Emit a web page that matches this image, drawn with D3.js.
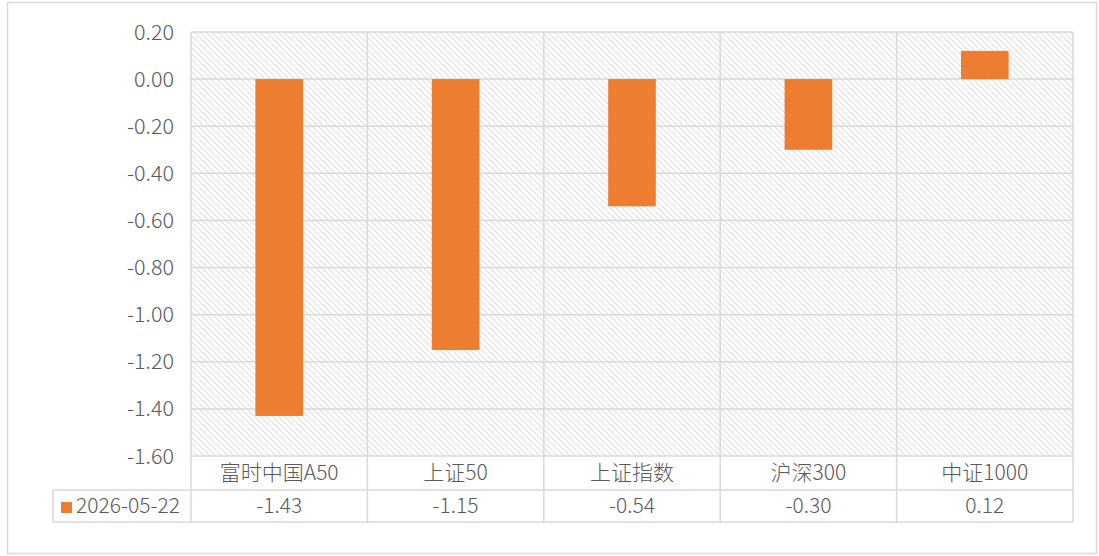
<!DOCTYPE html>
<html>
<head>
<meta charset="utf-8">
<script src="https://cdn.jsdelivr.net/npm/d3@7/dist/d3.min.js"></script>
<style>
    body { margin: 0; background: #fff; }
    text { font-family: "Noto Sans CJK SC", "Noto Sans", sans-serif; font-weight: 300; fill: #595959; }
</style>
</head>
<body>
<svg id="chart" width="1099" height="556"></svg>
<script>
var categories = ['富时中国A50', '上证50', '上证指数', '沪深300', '中证1000']
var values = [-1.43, -1.15, -0.54, -0.30, 0.12]
var seriesName = '2026-05-22'
var yTicks = [0.2, 0, -0.2, -0.4, -0.6, -0.8, -1.0, -1.2, -1.4, -1.6]

var plotLeft = 191, plotRight = 1073, plotTop = 32, plotBottom = 456
var catRowBottom = 490, legRowBottom = 522, legLeft = 53
var gridColor = '#d9d9d9'
var barColor = '#ED7D31'

var svg = d3.select('#chart')

// hatch fill for plot area
var pat = svg.append('defs').append('pattern')
    .attr('id', 'hatch')
    .attr('patternUnits', 'userSpaceOnUse')
    .attr('width', 6)
    .attr('height', 6)
pat.append('path')
    .attr('d', 'M0,0 L6,6 M-3,3 L3,9 M3,-3 L9,3')
    .attr('stroke', '#e0e0e0')
    .attr('stroke-width', 1.2)

// outer frame
svg.append('rect')
    .attr('x', 7.5).attr('y', 2.5)
    .attr('width', 1089).attr('height', 551)
    .attr('fill', 'none')
    .attr('stroke', gridColor)
    .attr('stroke-width', 1.5)

var x = d3.scaleBand()
    .domain(categories)
    .range([plotLeft, plotRight])
    .padding(0)

var y = d3.scaleLinear()
    .domain([-1.6, 0.2])
    .range([plotBottom, plotTop])

svg.append('rect')
    .attr('x', plotLeft).attr('y', plotTop)
    .attr('width', plotRight - plotLeft)
    .attr('height', plotBottom - plotTop)
    .attr('fill', 'url(#hatch)')

// horizontal grid
svg.selectAll('.hgrid')
    .data(yTicks)
    .enter()
    .append('line')
    .attr('class', 'hgrid')
    .attr('x1', plotLeft).attr('x2', plotRight)
    .attr('y1', function(d) { return y(d) })
    .attr('y2', function(d) { return y(d) })
    .attr('stroke', gridColor)
    .attr('stroke-width', 1.5)

// vertical grid / table columns
var bounds = categories.map(function(c) { return x(c) }).concat([plotRight])
svg.selectAll('.vgrid')
    .data(bounds)
    .enter()
    .append('line')
    .attr('class', 'vgrid')
    .attr('x1', function(d) { return d })
    .attr('x2', function(d) { return d })
    .attr('y1', plotTop)
    .attr('y2', legRowBottom)
    .attr('stroke', gridColor)
    .attr('stroke-width', 1.5)

// table rows
svg.append('line')
    .attr('x1', legLeft).attr('x2', plotRight)
    .attr('y1', catRowBottom).attr('y2', catRowBottom)
    .attr('stroke', gridColor).attr('stroke-width', 1.5)
svg.append('line')
    .attr('x1', legLeft).attr('x2', plotRight)
    .attr('y1', legRowBottom).attr('y2', legRowBottom)
    .attr('stroke', gridColor).attr('stroke-width', 1.5)
svg.append('line')
    .attr('x1', legLeft).attr('x2', legLeft)
    .attr('y1', catRowBottom).attr('y2', legRowBottom)
    .attr('stroke', gridColor).attr('stroke-width', 1.5)

// bars
var barW = x.bandwidth() * 0.27
svg.selectAll('.bar')
    .data(values)
    .enter()
    .append('rect')
    .attr('class', 'bar')
    .attr('x', function(d, i) { return x(categories[i]) + (x.bandwidth() - barW) / 2 })
    .attr('y', function(d) { return y(Math.max(0, d)) })
    .attr('width', barW)
    .attr('height', function(d) { return Math.abs(y(d) - y(0)) })
    .attr('fill', barColor)

// y tick labels
svg.selectAll('.ytick')
    .data(yTicks)
    .enter()
    .append('text')
    .attr('class', 'ytick')
    .attr('x', 174)
    .attr('y', function(d) { return y(d) })
    .attr('dy', '0.35em')
    .attr('text-anchor', 'end')
    .style('font-size', '21.5px')
    .text(function(d) { return d.toFixed(2) })

// category labels
svg.selectAll('.cat')
    .data(categories)
    .enter()
    .append('text')
    .attr('class', 'cat')
    .attr('x', function(d) { return x(d) + x.bandwidth() / 2 })
    .attr('y', (plotBottom + catRowBottom) / 2)
    .attr('dy', '0.35em')
    .attr('text-anchor', 'middle')
    .style('font-size', '21px')
    .text(function(d) { return d })

// values row
svg.selectAll('.val')
    .data(values)
    .enter()
    .append('text')
    .attr('class', 'val')
    .attr('x', function(d, i) { return x(categories[i]) + x.bandwidth() / 2 })
    .attr('y', (catRowBottom + legRowBottom) / 2)
    .attr('dy', '0.35em')
    .attr('text-anchor', 'middle')
    .style('font-size', '21px')
    .text(function(d) { return d.toFixed(2) })

// legend key
svg.append('rect')
    .attr('x', 61).attr('y', 502)
    .attr('width', 11).attr('height', 11)
    .attr('fill', barColor)
svg.append('text')
    .attr('x', 76)
    .attr('y', (catRowBottom + legRowBottom) / 2)
    .attr('dy', '0.35em')
    .style('font-size', '21px')
    .text(seriesName)
</script>
</body>
</html>
